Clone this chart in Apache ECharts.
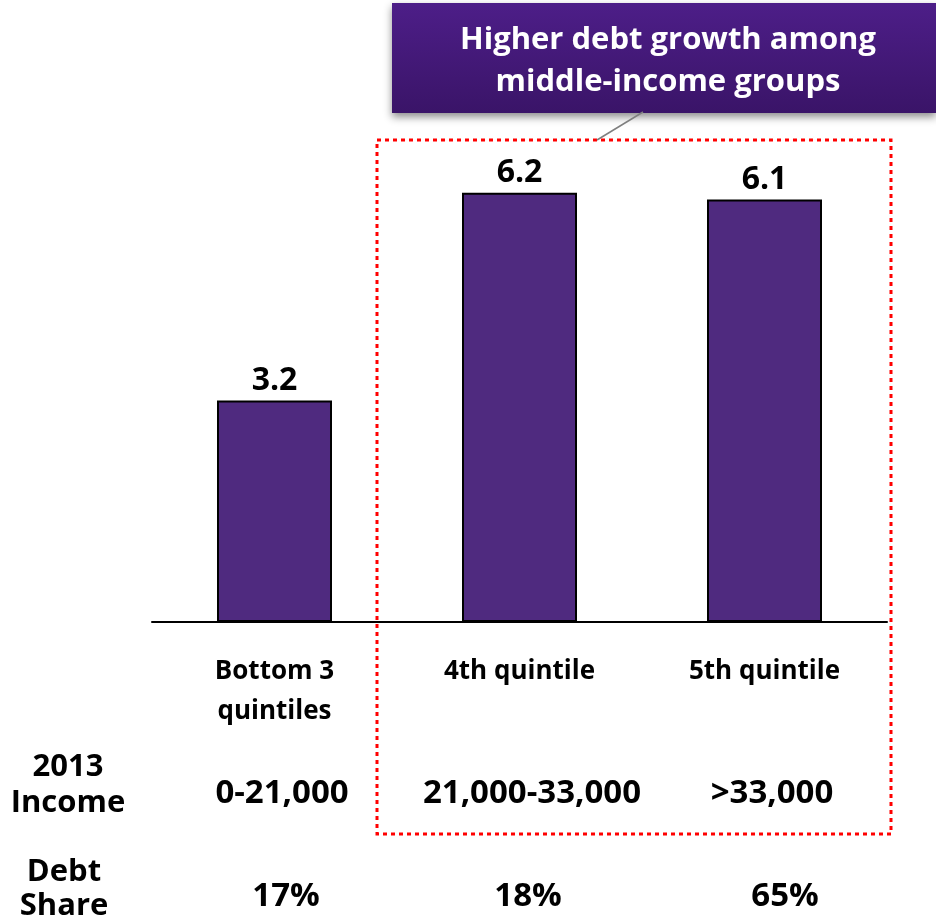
<!DOCTYPE html>
<html>
<head>
<meta charset="utf-8">
<script src="https://cdn.jsdelivr.net/npm/echarts@6/dist/echarts.min.js"></script>
<style>
  html, body { margin: 0; padding: 0; background: #fff; }
  #chart { width: 936px; height: 921px; }
</style>
</head>
<body>
<div id="chart"></div>
<script>
// Debt growth by income group
const categories = ['Bottom 3\nquintiles', '4th quintile', '5th quintile'];
const debtGrowth = [3.2, 6.2, 6.1];
const incomeRanges = ['0-21,000', '21,000-33,000', '>33,000'];
const debtShares = ['17%', '18%', '65%'];
const calloutText = 'Higher debt growth among\nmiddle-income groups';

const FONT = '"Open Sans", sans-serif';
const chart = echarts.init(document.getElementById('chart'));

// table rows under the chart: column centres and row baselines
const incomeCols = [282, 532, 772];
const shareCols = [286, 528, 785];
const INCOME_Y = 794;
const SHARE_Y = 897;

const tableText = (txt, x, y) => ({
  type: 'text', z: 11,
  style: {
    x: x, y: y, text: txt, fill: '#000', font: 'bold 33px ' + FONT,
    align: 'center', verticalAlign: 'middle'
  }
});

chart.setOption({
  animation: false,
  grid: { left: 152, right: 49, top: 68, bottom: 299 },
  xAxis: {
    type: 'category',
    data: categories,
    axisLine: { show: true, lineStyle: { color: '#000', width: 2 } },
    axisTick: { show: false },
    axisLabel: {
      interval: 0, margin: 30, verticalAlign: 'top', lineHeight: 40,
      color: '#000', fontFamily: FONT, fontWeight: 'bold', fontSize: 26
    }
  },
  yAxis: {
    type: 'value', min: 0, max: 8,
    show: false, splitLine: { show: false }
  },
  series: [{
    type: 'bar',
    data: debtGrowth,
    barWidth: 115,
    itemStyle: { color: '#4f2a7f', borderColor: '#000', borderWidth: 2 },
    label: {
      show: true, position: 'top', distance: 4,
      color: '#000', fontFamily: FONT, fontWeight: 'bold', fontSize: 32,
      formatter: p => p.value.toFixed(1)
    }
  }],
  graphic: [
    // dotted frame around upper-income groups
    {
      type: 'rect', z: 10,
      shape: { x: 377, y: 140, width: 514, height: 694 },
      style: { fill: 'none', stroke: '#ff0000', lineWidth: 3, lineDash: [4, 4] }
    },
    // connector from callout to frame
    {
      type: 'line', z: 10,
      shape: { x1: 643, y1: 112, x2: 597, y2: 140 },
      style: { stroke: '#7f7f7f', lineWidth: 1.5 }
    },
    // callout box with shadow
    {
      type: 'rect', z: 9,
      shape: { x: 392, y: 3, width: 544, height: 110 },
      style: {
        fill: new echarts.graphic.LinearGradient(0, 0, 0, 1, [
          { offset: 0, color: '#4d1e88' },
          { offset: 1, color: '#3a1468' }
        ]),
        shadowColor: 'rgba(0,0,0,0.45)', shadowBlur: 8, shadowOffsetY: 4
      }
    },
    {
      type: 'text', z: 11,
      style: {
        x: 668, y: 61, text: calloutText,
        fill: '#fff', font: 'bold 31px ' + FONT, lineHeight: 42,
        align: 'center', verticalAlign: 'middle'
      }
    },
    // row headers
    {
      type: 'text', z: 11,
      style: {
        x: 68, y: 785, text: '2013\nIncome',
        fill: '#000', font: 'bold 31px ' + FONT, lineHeight: 36,
        align: 'center', verticalAlign: 'middle'
      }
    },
    {
      type: 'text', z: 11,
      style: {
        x: 64, y: 889, text: 'Debt\nShare',
        fill: '#000', font: 'bold 31px ' + FONT, lineHeight: 34,
        align: 'center', verticalAlign: 'middle'
      }
    }
  ]
    .concat(incomeRanges.map((t, i) => tableText(t, incomeCols[i], INCOME_Y)))
    .concat(debtShares.map((t, i) => tableText(t, shareCols[i], SHARE_Y)))
});
</script>
</body>
</html>
